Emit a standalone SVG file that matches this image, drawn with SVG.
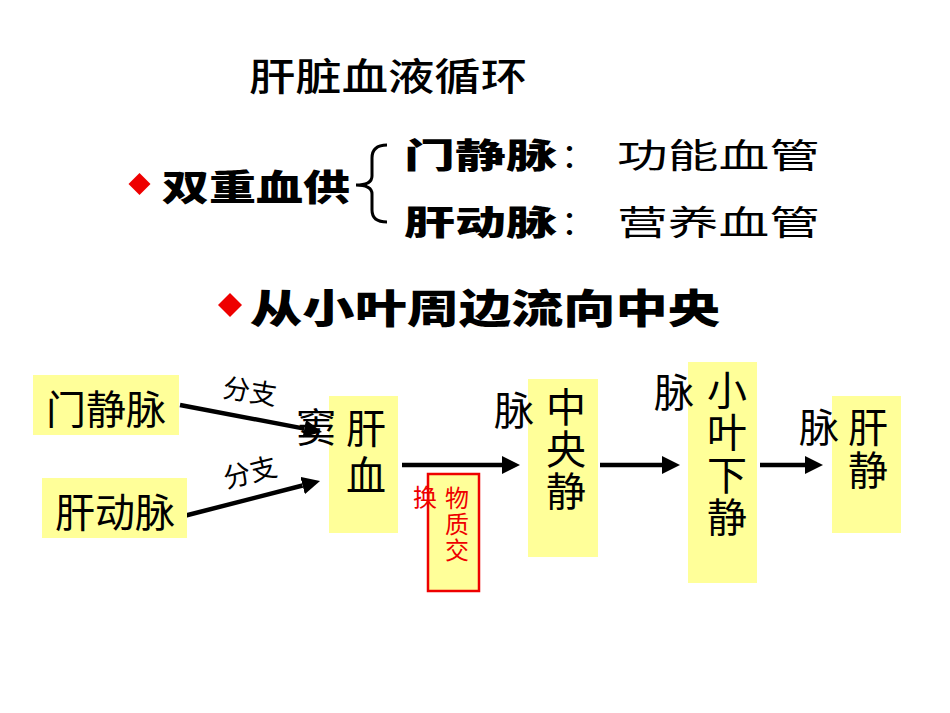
<svg xmlns="http://www.w3.org/2000/svg" width="950" height="713" viewBox="0 0 950 713">
<style>
text{font-family:"Noto Sans CJK SC","Noto Sans CJK TC",sans-serif;fill:#000}
.title{font-size:38px;font-weight:500}
.bold{font-weight:900}
.head{font-size:36px}
.sub{font-size:34px}
.lbl{font-size:40px;text-anchor:middle}
.vert{font-size:40px;writing-mode:vertical-rl;text-orientation:upright}
.small{font-size:27px;text-anchor:middle}
.red{fill:#ee0000;font-size:24px}
.box{fill:#ffff99}
.diamond{fill:#ee0000}
.conn{stroke:#000;stroke-width:4.5;fill:none}
</style>
<defs>
<marker id="ah" markerUnits="userSpaceOnUse" markerWidth="18" markerHeight="18" refX="0" refY="9" orient="auto">
<path d="M0,0 L18,9 L0,18 Z" fill="#000"/>
</marker>
</defs>
<rect width="950" height="713" fill="#fff"/>

<g id="title">
<text class="title" x="249" y="90" textLength="278" lengthAdjust="spacingAndGlyphs">肝脏血液循环</text>
</g>

<g id="dual-supply">
<path class="diamond" d="M139.5,173 L150.5,184 L139.5,195 L128.5,184 Z"/>
<text class="bold head" x="162" y="201" textLength="188" lengthAdjust="spacingAndGlyphs">双重血供</text>
<path d="M387,145 Q372,145 372,158 L372,176 Q372,185 356,185 Q372,185 372,194 L372,210 Q372,222 387,222" stroke="#000" stroke-width="3" fill="none"/>
<text class="bold sub" x="404" y="168" textLength="153" lengthAdjust="spacingAndGlyphs">门静脉</text>
<text class="sub" x="578" y="168" text-anchor="middle">：</text>
<text class="sub" x="617" y="168" textLength="203" lengthAdjust="spacingAndGlyphs">功能血管</text>
<text class="bold sub" x="404" y="235" textLength="153" lengthAdjust="spacingAndGlyphs">肝动脉</text>
<text class="sub" x="578" y="235" text-anchor="middle">：</text>
<text class="sub" x="617" y="235" textLength="203" lengthAdjust="spacingAndGlyphs">营养血管</text>
</g>

<g id="flow-direction">
<path class="diamond" d="M230,293 L242,305 L230,317 L218,305 Z"/>
<text class="bold" x="250" y="323" font-size="40" textLength="470" lengthAdjust="spacingAndGlyphs">从小叶周边流向中央</text>
</g>

<g id="connectors">
<line class="conn" x1="180" y1="405" x2="304.3" y2="428.6" marker-end="url(#ah)"/>
<line class="conn" x1="180" y1="517" x2="302.6" y2="485.5" marker-end="url(#ah)"/>
<line class="conn" x1="402" y1="465" x2="502" y2="465" marker-end="url(#ah)"/>
<line class="conn" x1="600" y1="465" x2="662" y2="465" marker-end="url(#ah)"/>
<line class="conn" x1="760" y1="465" x2="805" y2="465" marker-end="url(#ah)"/>
<text class="small" x="250" y="401" transform="rotate(9 250 391)">分支</text>
<text class="small" x="250" y="482" transform="rotate(-14 250 472)">分支</text>
</g>

<g id="portal-vein">
<rect class="box" x="33" y="375" width="146" height="60"/>
<text class="lbl" x="106" y="424">门静脉</text>
</g>

<g id="hepatic-artery">
<rect class="box" x="42" y="478" width="145" height="60"/>
<text class="lbl" x="115" y="527">肝动脉</text>
</g>

<g id="sinusoid">
<rect class="box" x="329" y="396" width="69" height="137"/>
<text class="vert" x="366" y="408" letter-spacing="7">肝血</text>
<text class="lbl" x="316" y="442" font-size="38">窦</text>
</g>

<g id="exchange">
<rect x="428" y="474" width="51" height="117" fill="#ffff99" stroke="#ee0000" stroke-width="2.5"/>
<text class="red" x="425" y="506" text-anchor="middle">换</text>
<text class="red" x="457" y="486" letter-spacing="2" style="writing-mode:vertical-rl">物质交</text>
</g>

<g id="central-vein">
<rect class="box" x="528" y="379" width="70" height="178"/>
<text class="vert" x="566" y="387" letter-spacing="2">中央静</text>
<text class="lbl" x="514" y="425">脉</text>
</g>

<g id="sublobular-vein">
<rect class="box" x="688" y="362" width="69" height="221"/>
<text class="vert" x="727" y="370" letter-spacing="2.3">小叶下静</text>
<text class="lbl" x="674" y="407">脉</text>
</g>

<g id="hepatic-vein">
<rect class="box" x="832" y="396" width="69" height="137"/>
<text class="vert" x="868" y="407" letter-spacing="3">肝静</text>
<text class="lbl" x="819" y="442">脉</text>
</g>
</svg>
